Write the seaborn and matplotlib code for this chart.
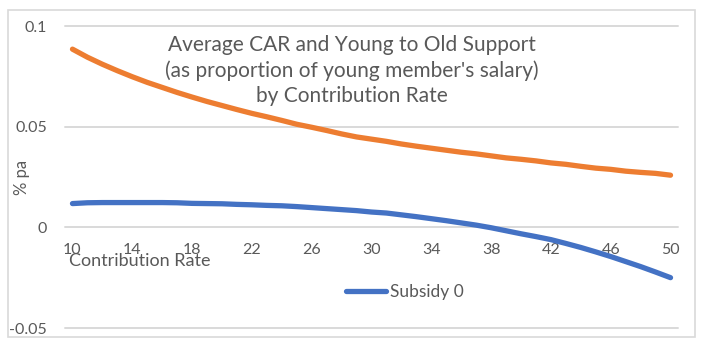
import numpy as np
import pandas as pd
import matplotlib
matplotlib.use('Agg')
import matplotlib.pyplot as plt
import seaborn as sns
from matplotlib.patches import Rectangle
from matplotlib.ticker import FuncFormatter

# ---------- dados ----------
contrib_rate = list(range(10, 51))
car_avg = [0.0885, 0.0845, 0.0810, 0.0778, 0.0748, 0.0720, 0.0695, 0.0670, 0.0647, 0.0625,
           0.0605, 0.0585, 0.0566, 0.0549, 0.0531, 0.0512, 0.0497, 0.0481, 0.0464, 0.0449,
           0.0438, 0.0427, 0.0414, 0.0403, 0.0393, 0.0383, 0.0373, 0.0365, 0.0355, 0.0345,
           0.0338, 0.0330, 0.0320, 0.0313, 0.0303, 0.0294, 0.0288, 0.0279, 0.0273, 0.0268,
           0.0259]
subsidy_0 = [0.0118, 0.0122, 0.0123, 0.0123, 0.0123, 0.0123, 0.0123, 0.0122, 0.0119, 0.0118,
             0.0117, 0.0114, 0.0112, 0.0109, 0.0107, 0.0103, 0.0098, 0.0093, 0.0088, 0.0083,
             0.0076, 0.0071, 0.0062, 0.0053, 0.0043, 0.0033, 0.0022, 0.0011, -0.0002, -0.0017,
             -0.0032, -0.0046, -0.0061, -0.0080, -0.0100, -0.0122, -0.0145, -0.0170, -0.0195,
             -0.0222, -0.0250]
x_ticks = list(range(10, 51, 4))
y_ticks = [-0.05, 0, 0.05, 0.1]
y_tick_labels = ['-0.05', '0', '0.05', '0.1']

titulo = "Average CAR and Young to Old Support\n(as proportion of young member's salary)\nby Contribution Rate"

df = pd.DataFrame({'rate': contrib_rate, 'car': car_avg, 'sub0': subsidy_0})

# ---------- estilo ----------
sns.set_theme(style='white')
plt.rcParams['font.family'] = ['Lato', 'DejaVu Sans']
cor_txt = '#595959'
cor_grid = '#d9d9d9'

W, H = 711, 351
fig = plt.figure(figsize=(W / 100, H / 100), dpi=100)
ax = fig.add_axes([65 / W, 23 / H, 613 / W, 302 / H])

sns.lineplot(data=df, x='rate', y='car', ax=ax, color='#ED7D31', linewidth=3.8,
             label='_nolegend_', solid_capstyle='round')
sns.lineplot(data=df, x='rate', y='sub0', ax=ax, color='#4472C4', linewidth=3.8,
             label='Subsidy 0', solid_capstyle='round')

ax.set_xlim(9.5, 50.5)
ax.set_ylim(-0.05, 0.1)
ax.set_yticks(y_ticks)
ax.yaxis.set_major_formatter(FuncFormatter(lambda v, p: y_tick_labels[y_ticks.index(round(v, 3))]
                                           if round(v, 3) in y_ticks else ''))
ax.set_xticks(x_ticks)

for s in ax.spines.values():
    s.set_visible(False)
ax.spines['bottom'].set_position(('data', 0))

ax.grid(True, axis='y', color=cor_grid, linewidth=1.4)
ax.grid(False, axis='x')
for ln in ax.get_ygridlines():
    ln.set_clip_on(False)

ax.tick_params(axis='x', length=0, pad=11, labelsize=11.5, labelcolor=cor_txt)
ax.tick_params(axis='y', length=0, pad=13, labelsize=11.5, labelcolor=cor_txt)

ax.set_xlabel('')
ax.set_ylabel('% pa', fontsize=12, color=cor_txt)
ax.yaxis.set_label_coords((30 - 65) / 613, 0.5)

fig.text(69 / W, 1 - 261 / H, 'Contribution Rate', ha='left', va='center',
         fontsize=13, color=cor_txt)

fig.text(352 / W, 1 - 70.5 / H, titulo, ha='center', va='center',
         fontsize=15, color=cor_txt, linespacing=1.3)

leg = ax.legend(loc='center', bbox_to_anchor=((405 - 65) / 613, (351 - 292 - 23) / 302),
                frameon=False, fontsize=12.5, handlelength=2.3, handletextpad=0.25,
                labelcolor=cor_txt)

fig.patches.append(Rectangle((8 / W, 14 / H), 687 / W, 327 / H, transform=fig.transFigure,
                             fill=False, edgecolor=cor_grid, linewidth=1.2))

fig.savefig('out.png', dpi=100, facecolor='white')
